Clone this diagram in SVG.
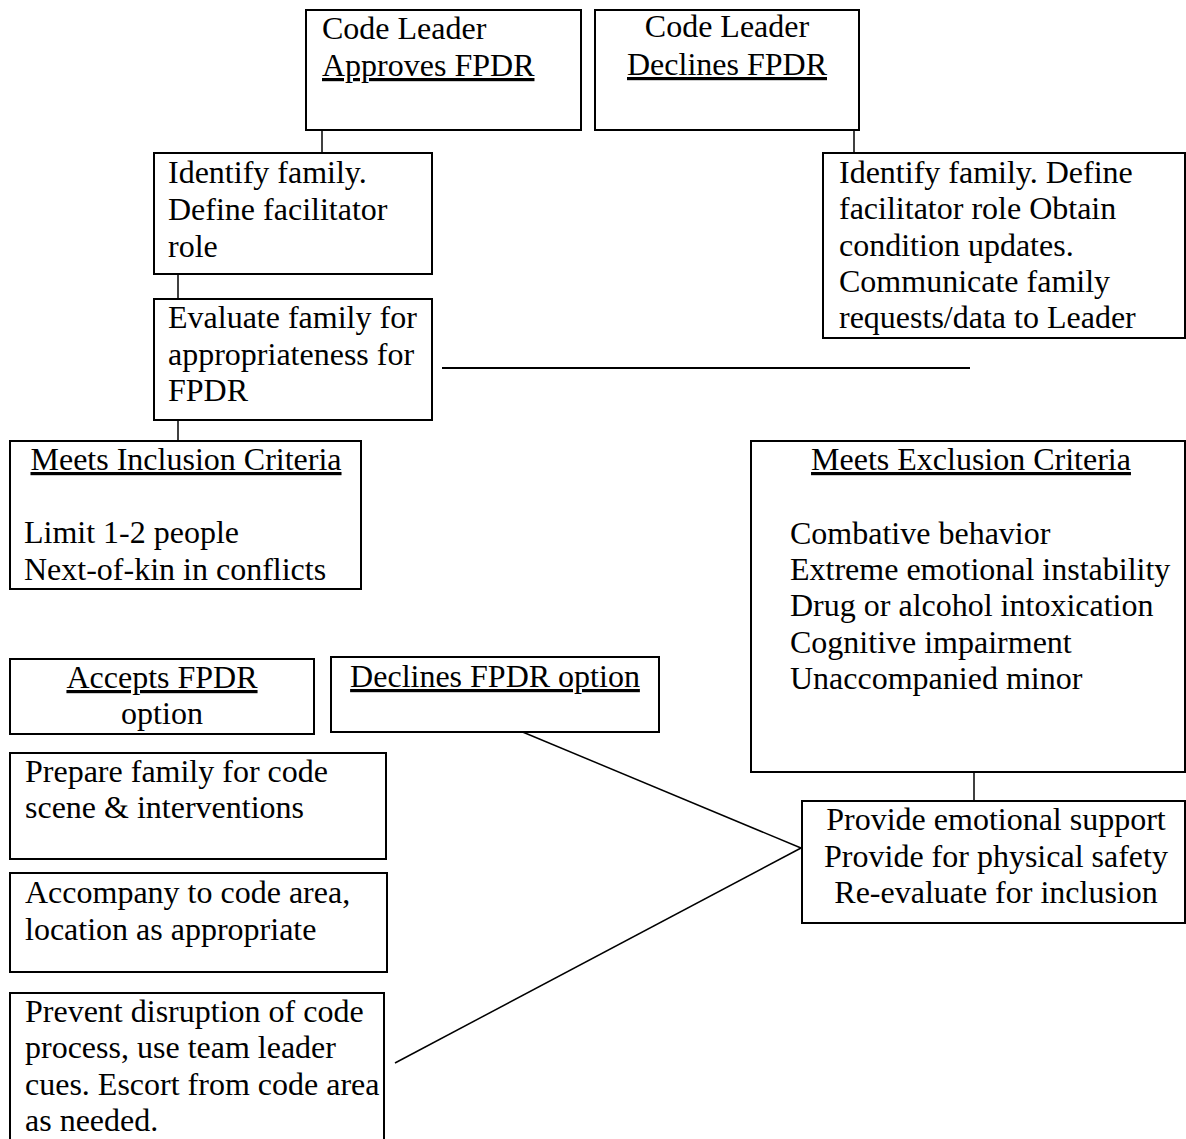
<svg xmlns="http://www.w3.org/2000/svg" width="1186" height="1139" viewBox="0 0 1186 1139">
<style>
.box{fill:#fff;stroke:#000;stroke-width:2}
.t{font-family:"Liberation Serif","Times New Roman",serif;font-size:32px;fill:#000}
.c{text-anchor:middle}
.u{text-decoration:underline}
.conn line{stroke:#000;stroke-width:1.5}
</style>
<rect width="1186" height="1139" fill="#fff"/>
<g id="connectors" class="conn">
<line x1="322" y1="130" x2="322" y2="153"/>
<line x1="854" y1="130" x2="854" y2="153"/>
<line x1="178" y1="274" x2="178" y2="299"/>
<line x1="178" y1="420" x2="178" y2="441"/>
<line x1="974" y1="772" x2="974" y2="801"/>
<line x1="442" y1="368" x2="970" y2="368" style="stroke-width:2"/>
<line x1="513" y1="728" x2="801" y2="848"/>
<line x1="395" y1="1063" x2="801" y2="848"/>
</g>
<g id="approves">
<rect class="box" x="306" y="10" width="275" height="120"/>
<text class="t" x="322" y="39">Code Leader</text>
<text class="t u" x="322" y="76">Approves FPDR</text>
</g>
<g id="declines">
<rect class="box" x="595" y="10" width="264" height="120"/>
<text class="t c" x="727" y="37">Code Leader</text>
<text class="t c u" x="727" y="75">Declines FPDR</text>
</g>
<g id="identify-left">
<rect class="box" x="154" y="153" width="278" height="121"/>
<text class="t" x="168" y="183">Identify family.</text>
<text class="t" x="168" y="220">Define facilitator</text>
<text class="t" x="168" y="257">role</text>
</g>
<g id="identify-right">
<rect class="box" x="823" y="153" width="362" height="185"/>
<text class="t" x="839" y="183">Identify family. Define</text>
<text class="t" x="839" y="219">facilitator role Obtain</text>
<text class="t" x="839" y="256">condition updates.</text>
<text class="t" x="839" y="292">Communicate family</text>
<text class="t" x="839" y="328">requests/data to Leader</text>
</g>
<g id="evaluate">
<rect class="box" x="154" y="299" width="278" height="121"/>
<text class="t" x="168" y="328">Evaluate family for</text>
<text class="t" x="168" y="365">appropriateness for</text>
<text class="t" x="168" y="401">FPDR</text>
</g>
<g id="inclusion">
<rect class="box" x="10" y="441" width="351" height="148"/>
<text class="t c u" x="186" y="470">Meets Inclusion Criteria</text>
<text class="t" x="24" y="543">Limit 1-2 people</text>
<text class="t" x="24" y="580">Next-of-kin in conflicts</text>
</g>
<g id="exclusion">
<rect class="box" x="751" y="441" width="434" height="331"/>
<text class="t c u" x="971" y="470">Meets Exclusion Criteria</text>
<text class="t" x="790" y="544">Combative behavior</text>
<text class="t" x="790" y="580">Extreme emotional instability</text>
<text class="t" x="790" y="616">Drug or alcohol intoxication</text>
<text class="t" x="790" y="653">Cognitive impairment</text>
<text class="t" x="790" y="689">Unaccompanied minor</text>
</g>
<g id="accepts">
<rect class="box" x="10" y="659" width="304" height="75"/>
<text class="t c u" x="162" y="688">Accepts FPDR</text>
<text class="t c" x="162" y="724">option</text>
</g>
<g id="declines-option">
<rect class="box" x="331" y="657" width="328" height="75"/>
<text class="t c u" x="495" y="687">Declines FPDR option</text>
</g>
<g id="prepare">
<rect class="box" x="10" y="753" width="376" height="106"/>
<text class="t" x="25" y="782">Prepare family for code</text>
<text class="t" x="25" y="818">scene &amp; interventions</text>
</g>
<g id="accompany">
<rect class="box" x="10" y="873" width="377" height="99"/>
<text class="t" x="25" y="903">Accompany to code area,</text>
<text class="t" x="25" y="940">location as appropriate</text>
</g>
<g id="prevent">
<rect class="box" x="10" y="993" width="374" height="160"/>
<text class="t" x="25" y="1022">Prevent disruption of code</text>
<text class="t" x="25" y="1058">process, use team leader</text>
<text class="t" x="25" y="1095">cues. Escort from code area</text>
<text class="t" x="25" y="1131">as needed.</text>
</g>
<g id="provide">
<rect class="box" x="802" y="801" width="383" height="122"/>
<text class="t c" x="996" y="830">Provide emotional support</text>
<text class="t c" x="996" y="867">Provide for physical safety</text>
<text class="t c" x="996" y="903">Re-evaluate for inclusion</text>
</g>
</svg>
